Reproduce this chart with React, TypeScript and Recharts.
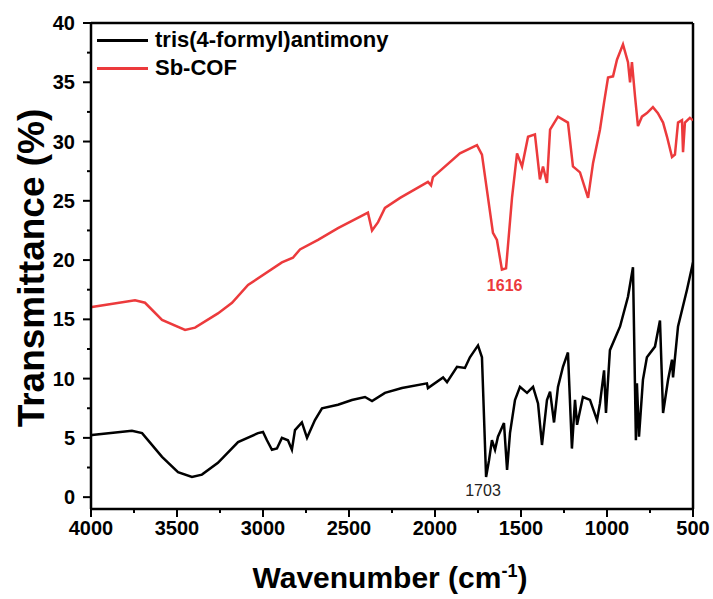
import React from "react";
import {
  LineChart,
  Line,
  XAxis,
  YAxis,
  ReferenceLine,
  ReferenceDot,
} from "recharts";

// wavenumber (cm-1) and transmittance (%)
const cofWn = [
  4000, 3994, 3744, 3686, 3587, 3453, 3395, 3262, 3180, 3087, 2890, 2826, 2785, 2680,
  2564, 2390, 2366, 2331, 2291, 2203, 2041, 2023, 2012, 1855, 1756, 1727, 1698, 1663,
  1640, 1611, 1587, 1552, 1523, 1494, 1459, 1419, 1390, 1372, 1349, 1331, 1285, 1227,
  1198, 1157, 1110, 1081, 1041, 1017, 994, 965, 942, 907, 878, 866, 855, 837, 820, 797,
  768, 733, 704, 674, 651, 622, 605, 587, 564, 558, 547, 518, 500,
];
const cofT = [
  16.0, 16.05, 16.6, 16.4, 14.95, 14.1, 14.3, 15.5, 16.4, 17.9, 19.8, 20.2, 20.9, 21.7,
  22.7, 24.0, 22.5, 23.2, 24.4, 25.25, 26.6, 26.3, 27.0, 29.0, 29.7, 28.9, 25.9, 22.3,
  21.7, 19.2, 19.3, 25.3, 29.0, 27.9, 30.4, 30.6, 26.8, 27.9, 26.5, 31.0, 32.1, 31.6,
  27.9, 27.4, 25.25, 28.2, 31.0, 33.3, 35.4, 35.5, 36.9, 38.2, 36.7, 35.0, 36.7, 33.8,
  31.3, 32.1, 32.4, 32.9, 32.4, 31.6, 30.4, 28.7, 28.9, 31.6, 31.8, 29.1, 31.6, 32.0, 31.8,
];

const aldWn = [
  4000, 3994, 3762, 3703, 3587, 3494, 3413, 3355, 3262, 3145, 3029, 3000, 2977, 2948,
  2919, 2890, 2855, 2832, 2814, 2774, 2744, 2698, 2657, 2564, 2483, 2407, 2366, 2291,
  2192, 2047, 2041, 1953, 1930, 1872, 1826, 1797, 1750, 1727, 1703, 1686, 1669, 1651,
  1634, 1599, 1581, 1564, 1535, 1506, 1465, 1430, 1401, 1378, 1349, 1331, 1308, 1285,
  1256, 1227, 1204, 1186, 1174, 1140, 1099, 1058, 1041, 1017, 1006, 983, 924, 878, 849,
  832, 826, 814, 791, 768, 721, 692, 674, 645, 622, 616, 587, 535, 500,
];
const aldT = [
  5.2, 5.24, 5.6, 5.4, 3.4, 2.1, 1.7, 1.9, 2.9, 4.65, 5.4, 5.5, 4.8, 4.0,
  4.1, 5.0, 4.8, 4.0, 5.66, 6.3, 5.0, 6.5, 7.5, 7.8, 8.2, 8.45, 8.1, 8.8,
  9.2, 9.6, 9.2, 10.1, 9.7, 11.0, 10.9, 11.8, 12.8, 11.8, 1.7, 3.1, 4.8, 4.0,
  5.1, 6.25, 2.3, 5.4, 8.2, 9.3, 8.8, 9.3, 7.9, 4.4, 8.2, 8.9, 6.3, 9.3,
  11.0, 12.2, 4.1, 8.2, 6.1, 8.45, 8.2, 6.5, 7.9, 10.7, 7.1, 12.4, 14.4, 16.9, 19.4,
  4.8, 9.6, 5.1, 9.9, 11.8, 12.7, 14.9, 7.1, 9.9, 11.6, 10.1, 14.4, 17.5, 19.8,
];

const xTicks = [500, 750, 1000, 1250, 1500, 1750, 2000, 2250, 2500, 2750, 3000, 3250, 3500, 3750, 4000];
const yTicks = [0, 2.5, 5, 7.5, 10, 12.5, 15, 17.5, 20, 22.5, 25, 27.5, 30, 32.5, 35, 37.5, 40];

const seriesNames = ["tris(4-formyl)antimony", "Sb-COF"];
const peakLabels = ["1703", "1616"];

const RED = "#ec3a3c";
const FONT = "'Liberation Sans', Arial, sans-serif";

const aldData = aldWn.map((wn, i) => ({ wn, t: aldT[i] }));
const cofData = cofWn.map((wn, i) => ({ wn, t: cofT[i] }));

const XTick = (props: any) => {
  const { x, y, payload } = props;
  const major = payload.value % 500 === 0;
  return (
    <g>
      <line x1={x} x2={x} y1={y} y2={y + (major ? 8 : 4)} stroke="#000" strokeWidth={2} />
      {major && (
        <text x={x} y={y + 26} textAnchor="middle" fontSize={20} fontWeight="bold" fontFamily={FONT} fill="#000">
          {payload.value}
        </text>
      )}
    </g>
  );
};

const YTick = (props: any) => {
  const { x, y, payload } = props;
  const major = payload.value % 5 === 0;
  return (
    <g>
      <line x1={x} x2={x - (major ? 8 : 4)} y1={y} y2={y} stroke="#000" strokeWidth={2} />
      {major && (
        <text x={x - 16} y={y + 7} textAnchor="end" fontSize={20} fontWeight="bold" fontFamily={FONT} fill="#000">
          {payload.value}
        </text>
      )}
    </g>
  );
};

export default function App() {
  return (
    <div style={{ position: "absolute", left: 0, top: 0, width: 713, height: 599, background: "#fff" }}>
      <LineChart width={713} height={599} margin={{ top: 23, right: 20, bottom: 0, left: 0 }}>
        <XAxis
          type="number"
          dataKey="wn"
          domain={[500, 4000]}
          reversed
          ticks={xTicks}
          interval={0}
          height={90}
          tickSize={0}
          tickMargin={0}
          tickLine={false}
          tick={<XTick />}
          axisLine={{ stroke: "#000", strokeWidth: 2.5 }}
          allowDataOverflow
        />
        <YAxis
          type="number"
          domain={[-1, 40]}
          ticks={yTicks}
          interval={0}
          width={91}
          tickSize={0}
          tickMargin={0}
          tickLine={false}
          tick={<YTick />}
          axisLine={{ stroke: "#000", strokeWidth: 2.5 }}
          allowDataOverflow
        />
        <ReferenceLine y={40} stroke="#000" strokeWidth={2.5} />
        <ReferenceLine x={500} stroke="#000" strokeWidth={2.5} />
        <Line data={aldData} dataKey="t" stroke="#000" strokeWidth={2.5} dot={false} isAnimationActive={false} />
        <Line data={cofData} dataKey="t" stroke={RED} strokeWidth={2.5} dot={false} isAnimationActive={false} />
        <ReferenceDot
          x={1721}
          y={0.6}
          r={1}
          fill="none"
          stroke="none"
          label={{ value: peakLabels[0], position: "center", fontSize: 16, fontFamily: FONT, fill: "#222" }}
        />
        <ReferenceDot
          x={1595}
          y={17.9}
          r={1}
          fill="none"
          stroke="none"
          label={{ value: peakLabels[1], position: "center", fontSize: 16, fontWeight: "bold", fontFamily: FONT, fill: RED }}
        />
      </LineChart>
      <div style={{ position: "absolute", left: 97, top: 26, fontFamily: FONT, fontWeight: "bold", fontSize: 22 }}>
        {seriesNames.map((n, i) => (
          <div key={n} style={{ display: "flex", alignItems: "center", height: 28 }}>
            <div style={{ width: 51, height: 3, background: i === 0 ? "#000" : RED, marginRight: 7 }} />
            <span>{n}</span>
          </div>
        ))}
      </div>
      <div
        style={{
          position: "absolute",
          left: 390,
          top: 578,
          transform: "translate(-50%, -50%)",
          fontFamily: FONT,
          fontWeight: "bold",
          fontSize: 30,
          whiteSpace: "nowrap",
        }}
      >
        Wavenumber (cm<sup style={{ fontSize: 18 }}>-1</sup>)
      </div>
      <div
        style={{
          position: "absolute",
          left: 32,
          top: 268,
          transform: "translate(-50%, -50%) rotate(-90deg)",
          fontFamily: FONT,
          fontWeight: "bold",
          fontSize: 37,
          whiteSpace: "nowrap",
        }}
      >
        Transmittance (%)
      </div>
    </div>
  );
}
